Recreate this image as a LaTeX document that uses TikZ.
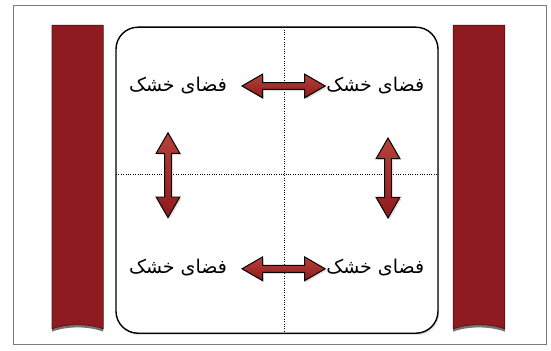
\documentclass[tikz,border=0pt]{standalone}
\usepackage{fontspec}
\usepackage{tikz}
\usetikzlibrary{shapes.arrows,shadows}
\TeXXeTstate=1
\newfontfamily\arabicfont[Script=Arabic]{DejaVu Sans}
\definecolor{barred}{HTML}{8E1B1F}
\definecolor{bardark}{HTML}{5A0E10}
\definecolor{arrowred}{HTML}{A3201F}
\definecolor{arrowlight}{HTML}{B8413A}
\definecolor{framegray}{HTML}{7A7A7A}
\tikzset{
  label/.style={font=\arabicfont\fontsize{13.5}{16}\selectfont, inner sep=1pt},
  bararrow/.style={double arrow, draw=black, line width=.7pt, top color=arrowlight, bottom color=arrowred!85!black,
    minimum width=.58cm, double arrow head extend=.21cm, double arrow tip angle=60,
    inner xsep=0pt, inner ysep=.075cm, drop shadow={opacity=.25, shadow xshift=.04cm, shadow yshift=-.04cm}},
  sidebar/.style={fill=barred, draw=bardark, line width=.5pt,
    drop shadow={fill=black, opacity=.55, shadow xshift=0cm, shadow yshift=-.07cm}},
  center line/.style={densely dotted, line width=.7pt}
}

\begin{document}
\begin{tikzpicture}[x=1cm,y=1cm]
  \useasboundingbox[fill=white] (0,0) rectangle (13.775,-8.75);
  \draw[framegray, line width=.6pt] (.33,-.13) rectangle (13.67,-8.62);

  % side bars
  \path[sidebar] (1.3,-.63) -- (2.58,-.63) -- (2.58,-8.22)
    .. controls (2.2,-8.08) and (1.68,-8.08) .. (1.3,-8.22) -- cycle;
  \path[sidebar] (11.33,-.63) -- (12.62,-.63) -- (12.62,-8.22)
    .. controls (12.24,-8.08) and (11.71,-8.08) .. (11.33,-8.22) -- cycle;

  % sheet with its centre lines
  \draw[fill=white, line width=1pt, rounded corners=.55cm,
    drop shadow={opacity=.2, shadow xshift=.03cm, shadow yshift=-.05cm}]
    (2.9,-.68) rectangle (10.95,-8.33);
  \draw[center line] (7.12,-.68) -- (7.12,-8.33);
  \draw[center line] (2.9,-4.35) -- (10.95,-4.35);

  % labels
  \node[label] (tl) at (4.45,-2.15) {\beginR فضای خشک\endR};
  \node[label] (tr) at (9.38,-2.15) {\beginR فضای خشک\endR};
  \node[label] (bl) at (4.45,-6.7) {\beginR فضای خشک\endR};
  \node[label] (br) at (9.38,-6.7) {\beginR فضای خشک\endR};

  % arrows
  \node[bararrow, minimum height=2.08cm] (top) at (7.09,-2.15) {};
  \node[bararrow, minimum height=2.08cm] (bottom) at (7.09,-6.72) {};
  \node[bararrow, minimum height=2.12cm, rotate=90] (left) at (4.2,-4.38) {};
  \node[bararrow, minimum height=2.0cm, rotate=90] (right) at (9.7,-4.45) {};
\end{tikzpicture}
\end{document}
